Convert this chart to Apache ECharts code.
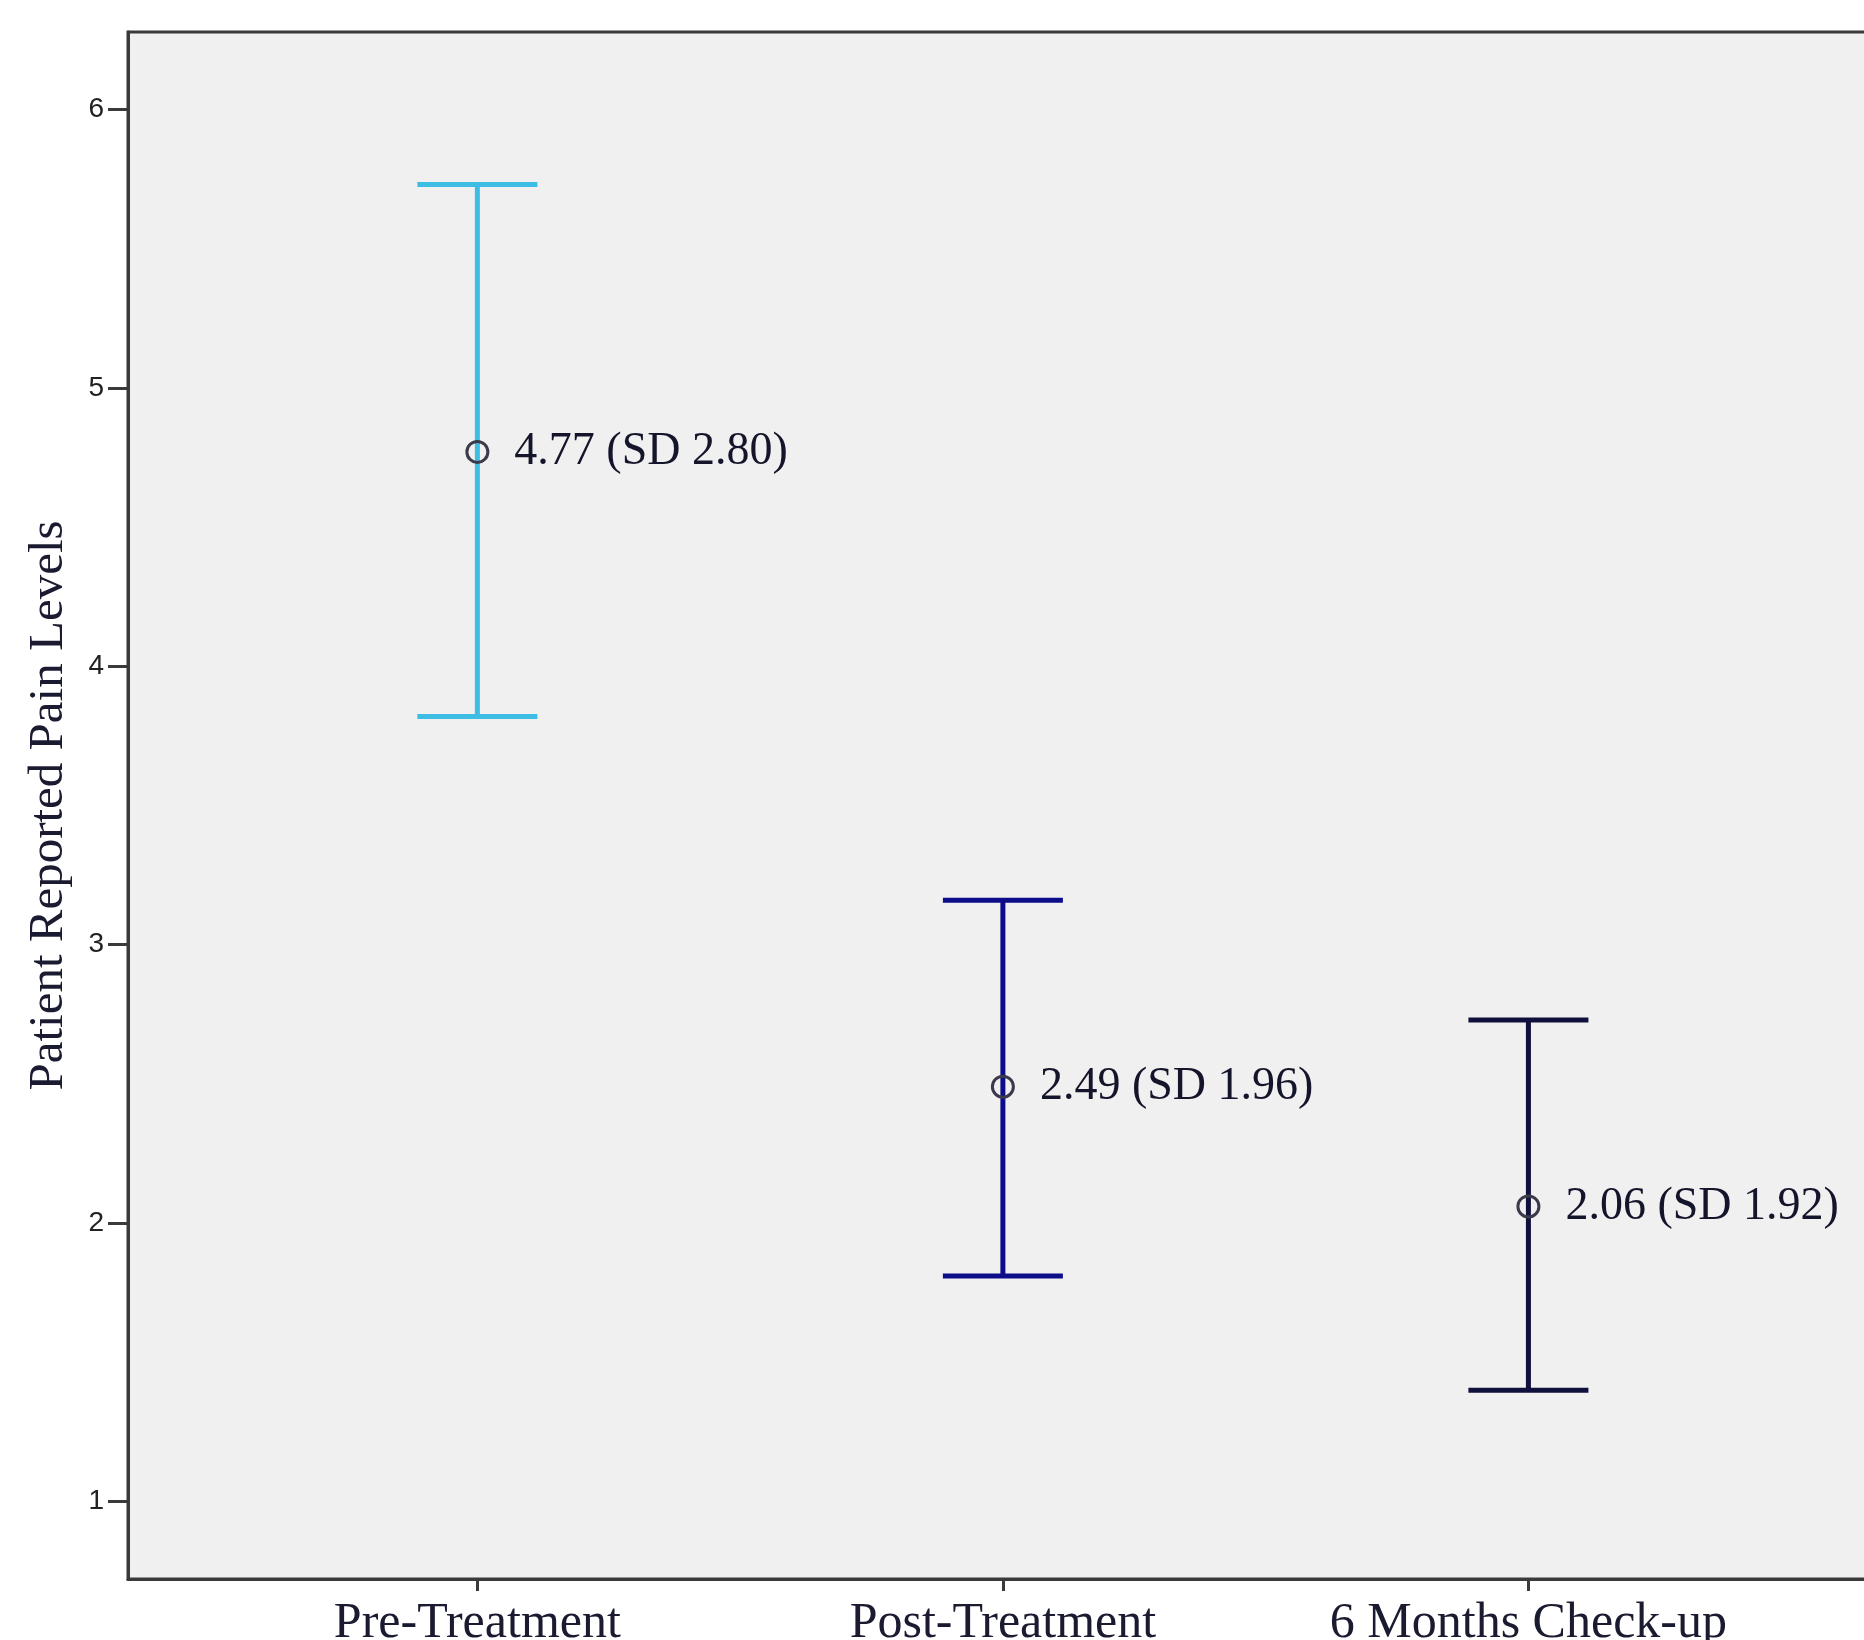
<!DOCTYPE html>
<html>
<head>
<meta charset="utf-8">
<script src="https://cdn.jsdelivr.net/npm/echarts@6/dist/echarts.min.js"></script>
<style>
  html, body { margin: 0; padding: 0; background: #ffffff; }
  #chart { width: 1864px; height: 1640px; }
</style>
</head>
<body>
<div id="chart"></div>
<script>
// ---- data ----
const categories = ['Pre-Treatment', 'Post-Treatment', '6 Months Check-up'];
const means = [4.77, 2.49, 2.06];
const sds = [2.80, 1.96, 1.92];
const upper = [5.73, 3.16, 2.73];
const lower = [3.82, 1.81, 1.40];
const yTicks = [1, 2, 3, 4, 5, 6];
const xPositions = [1, 2, 3];

// ---- styles ----
const barColors = ['#3dbde3', '#0d0d8a', '#10103c'];
const serif = 'Liberation Serif';
const sans = 'Liberation Sans';

const barData = xPositions.map((x, i) => [x, lower[i], upper[i]]);
const meanData = xPositions.map((x, i) => [x, means[i]]);

const chart = echarts.init(document.getElementById('chart'));
chart.setOption({
  animation: false,
  backgroundColor: '#ffffff',
  grid: {
    left: 128, top: 32, right: -6, bottom: 61,
    outerBoundsMode: 'none', containLabel: false,
    show: true, backgroundColor: '#f0f0f0',
    borderColor: '#3a3a3a', borderWidth: 3
  },
  xAxis: {
    type: 'value', min: 0.3352, max: 3.65,
    axisLine: { show: true, lineStyle: { color: '#3a3a3a', width: 3 } },
    axisTick: { show: true, customValues: xPositions, length: 12, lineStyle: { color: '#3a3a3a', width: 3 } },
    axisLabel: {
      customValues: xPositions, margin: 20,
      formatter: v => categories[Math.round(v) - 1] || '',
      fontFamily: serif, fontSize: 50, color: '#1a1a30'
    },
    splitLine: { show: false }
  },
  yAxis: {
    type: 'value', min: 0.722, max: 6.278,
    name: 'Patient Reported Pain Levels', nameLocation: 'middle', nameGap: 54,
    nameTextStyle: { fontFamily: serif, fontSize: 49, color: '#1a1a30' },
    axisLine: { show: true, lineStyle: { color: '#3a3a3a', width: 3 } },
    axisTick: { show: true, customValues: yTicks, length: 20, lineStyle: { color: '#3a3a3a', width: 3 } },
    axisLabel: {
      customValues: yTicks, margin: 24,
      fontFamily: sans, fontSize: 28, color: '#222222'
    },
    splitLine: { show: false }
  },
  series: [
    {
      type: 'custom',
      data: barData,
      renderItem: (params, api) => {
        const i = params.dataIndex;
        const x = api.value(0);
        const top = api.coord([x, api.value(2)]);
        const bot = api.coord([x, api.value(1)]);
        const hw = 60;
        const style = { stroke: barColors[i], lineWidth: 5 };
        return {
          type: 'group',
          children: [
            { type: 'line', shape: { x1: top[0], y1: top[1], x2: bot[0], y2: bot[1] }, style },
            { type: 'line', shape: { x1: top[0] - hw, y1: top[1], x2: top[0] + hw, y2: top[1] }, style },
            { type: 'line', shape: { x1: bot[0] - hw, y1: bot[1], x2: bot[0] + hw, y2: bot[1] }, style }
          ]
        };
      },
      z: 2
    },
    {
      type: 'scatter',
      data: meanData,
      symbol: 'circle',
      symbolSize: 21,
      itemStyle: { color: 'rgba(0,0,0,0)', borderColor: '#3a3a4a', borderWidth: 3, opacity: 1 },
      label: {
        show: true, position: 'right', distance: 25,
        formatter: p => means[p.dataIndex].toFixed(2) + ' (SD ' + sds[p.dataIndex].toFixed(2) + ')',
        fontFamily: serif, fontSize: 46, color: '#14142a', opacity: 1
      },
      z: 3
    }
  ]
});
</script>
</body>
</html>
